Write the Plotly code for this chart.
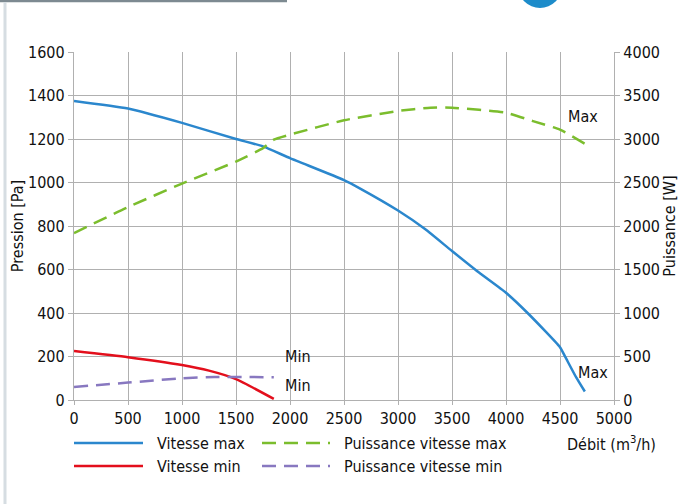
import plotly.graph_objects as go

# ---------------- data ----------------
vmax_x = [0, 500, 1000, 1500, 1750, 2000, 2500, 2650, 3000, 3250, 3500, 3750, 4000, 4200, 4500, 4550, 4650, 4730]
vmax_y = [1375, 1340, 1274, 1200, 1166, 1112, 1011, 972, 871, 786, 685, 586, 493, 400, 243, 197, 104, 39]

pmax_x = [0, 500, 1000, 1500, 1750, 1850, 2000, 2500, 3000, 3300, 3500, 4000, 4250, 4500, 4730]
pmax_y = [1919, 2217, 2488, 2741, 2895, 2992, 3050, 3215, 3322, 3360, 3360, 3302, 3206, 3108, 2945]

vmin_x = [0, 500, 1000, 1250, 1500, 1850]
vmin_y = [225, 197, 161, 135, 96, 5]

pmin_x = [0, 500, 1000, 1300, 1850]
pmin_y = [150, 200, 250, 265, 262]

x_ticks = [0, 500, 1000, 1500, 2000, 2500, 3000, 3500, 4000, 4500, 5000]
y_ticks = [0, 200, 400, 600, 800, 1000, 1200, 1400, 1600]
y2_ticks = [0, 500, 1000, 1500, 2000, 2500, 3000, 3500, 4000]

names = ["Vitesse max", "Vitesse min", "Puissance vitesse max", "Puissance vitesse min"]

# ---------------- style ----------------
FONT = "DejaVu Sans Condensed, Liberation Sans Narrow, sans-serif"
FS = 16
BLUE = "#2b87cd"
RED = "#e30f1c"
GREEN = "#7bbd2d"
PURPLE = "#8878c0"
GRID = "#b0b0b0"
TXT = "#111111"

W, H = 679, 504
L, R, T, B = 74, 65, 52, 104
PW, PH = W - L - R, H - T - B


def px(x):
    return (x - L) / PW


def py(y):
    return (H - B - y) / PH


fig = go.Figure()
fig.add_trace(go.Scatter(x=vmax_x, y=vmax_y, name=names[0], mode="lines",
                         line=dict(color=BLUE, width=2.5, shape="spline", smoothing=0.5),
                         showlegend=False))
fig.add_trace(go.Scatter(x=vmin_x, y=vmin_y, name=names[1], mode="lines",
                         line=dict(color=RED, width=2.5, shape="spline", smoothing=0.5),
                         showlegend=False))
fig.add_trace(go.Scatter(x=pmax_x, y=pmax_y, name=names[2], mode="lines", yaxis="y2",
                         line=dict(color=GREEN, width=2.5, dash="14px,8px", shape="spline", smoothing=0.5),
                         showlegend=False))
fig.add_trace(go.Scatter(x=pmin_x, y=pmin_y, name=names[3], mode="lines", yaxis="y2",
                         line=dict(color=PURPLE, width=2.5, dash="14px,8px", shape="spline", smoothing=0.5),
                         showlegend=False))

shapes = [
    # page decorations
    dict(type="line", xref="paper", yref="paper", x0=px(0), x1=px(287), y0=py(1), y1=py(1),
         line=dict(color="#7d8a91", width=2.5)),
    dict(type="line", xref="paper", yref="paper", x0=px(5), x1=px(5), y0=py(2), y1=py(504),
         line=dict(color="#d6dde2", width=3)),
    dict(type="circle", xref="paper", yref="paper", x0=px(518), x1=px(562), y0=py(8), y1=py(-36),
         fillcolor="#1d8cca", line=dict(width=0)),
    # legend samples
    dict(type="line", xref="paper", yref="paper", x0=px(74), x1=px(143), y0=py(443), y1=py(443),
         line=dict(color=BLUE, width=2.5)),
    dict(type="line", xref="paper", yref="paper", x0=px(74), x1=px(143), y0=py(466), y1=py(466),
         line=dict(color=RED, width=2.5)),
    dict(type="line", xref="paper", yref="paper", x0=px(262), x1=px(330), y0=py(443), y1=py(443),
         line=dict(color=GREEN, width=2.5, dash="14px,8px")),
    dict(type="line", xref="paper", yref="paper", x0=px(262), x1=px(330), y0=py(466), y1=py(466),
         line=dict(color=PURPLE, width=2.5, dash="14px,8px")),
]

ann_font = dict(family=FONT, size=FS, color=TXT)
annotations = [
    dict(text=names[0], x=px(155), y=py(443), xref="paper", yref="paper", xanchor="left", yanchor="middle",
         showarrow=False, font=ann_font),
    dict(text=names[1], x=px(155), y=py(466), xref="paper", yref="paper", xanchor="left", yanchor="middle",
         showarrow=False, font=ann_font),
    dict(text=names[2], x=px(342), y=py(443), xref="paper", yref="paper", xanchor="left", yanchor="middle",
         showarrow=False, font=ann_font),
    dict(text=names[3], x=px(342), y=py(466), xref="paper", yref="paper", xanchor="left", yanchor="middle",
         showarrow=False, font=ann_font),
    dict(text="Débit (m<sup>3</sup>/h)", x=px(565), y=py(443), xref="paper", yref="paper", xanchor="left",
         yanchor="middle", showarrow=False, font=ann_font),
    dict(text="Max", x=4713, y=3256, xref="x", yref="y2", showarrow=False, font=ann_font),
    dict(text="Max", x=4806, y=126, xref="x", yref="y", showarrow=False, font=ann_font),
    dict(text="Min", x=2074, y=200, xref="x", yref="y", showarrow=False, font=ann_font),
    dict(text="Min", x=2074, y=65, xref="x", yref="y", showarrow=False, font=ann_font),
]

tick_font = dict(family=FONT, size=FS, color=TXT)
fig.update_layout(
    width=W, height=H,
    margin=dict(l=L, r=R, t=T, b=B, pad=0),
    paper_bgcolor="white", plot_bgcolor="white",
    font=dict(family=FONT, size=FS, color=TXT),
    showlegend=False,
    shapes=shapes,
    annotations=annotations,
    xaxis=dict(range=[0, 5000], tickvals=x_ticks, ticktext=[str(v) for v in x_ticks], automargin=False,
               showgrid=True, gridcolor=GRID, gridwidth=1.3, showline=True, linecolor=GRID, linewidth=1.3,
               ticks="outside", ticklen=4, tickcolor=GRID, tickfont=tick_font, zeroline=False),
    yaxis=dict(range=[0, 1600], tickvals=y_ticks, ticktext=[str(v) for v in y_ticks], automargin=False,
               showgrid=True, gridcolor=GRID, gridwidth=1.3, showline=True, linecolor=GRID, linewidth=1.3,
               ticks="outside", ticklen=5, tickcolor=GRID, tickfont=tick_font, zeroline=False,
               title=dict(text="Pression [Pa]", font=tick_font, standoff=0)),
    yaxis2=dict(range=[0, 4000], tickvals=y2_ticks, ticktext=[str(v) for v in y2_ticks], automargin=False,
                overlaying="y", side="right", showgrid=False, showline=True, linecolor=GRID, linewidth=1.3,
                ticks="outside", ticklen=5, tickcolor=GRID, tickfont=tick_font, zeroline=False,
                title=dict(text="Puissance [W]", font=tick_font, standoff=4)),
)

fig.write_html("out.html")
